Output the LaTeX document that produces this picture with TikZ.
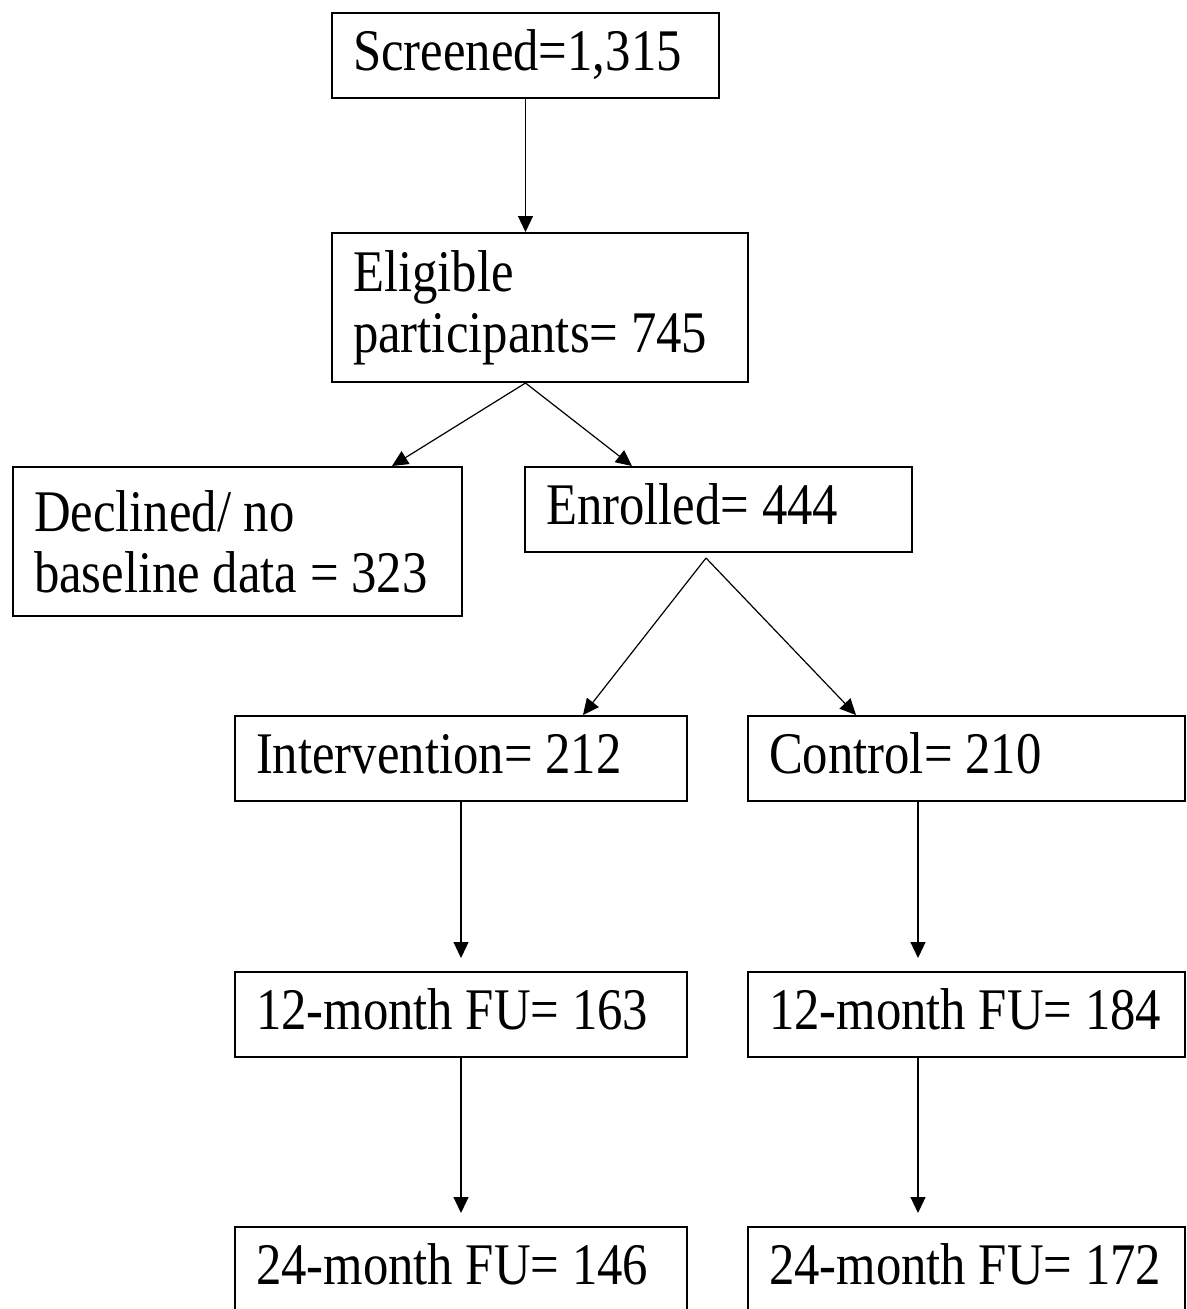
\documentclass[tikz,border=0pt]{standalone}
\usepackage{fontspec}
\setmainfont{Liberation Serif}[FakeStretch=0.86]
\usepackage{tikz}
\usetikzlibrary{arrows.meta,positioning,calc}
\newcommand{\boxfont}{\fontsize{59}{61}\selectfont}

\begin{document}
\begin{tikzpicture}[x=1pt, y=-1pt,
		box/.style={draw, line width=2pt, anchor=north west, inner xsep=21pt, inner ysep=0pt, align=flush left, font=\boxfont},
		oneline/.style={box, minimum height=85pt, text depth=10pt},
		twoline/.style={box, minimum height=149pt},
		arrow/.style={line width=1.2pt, -{Triangle[length=16pt,width=15pt]}}]
		\path[use as bounding box, fill=white] (0,0) rectangle (1186,1309);

		\node[oneline, text width=345pt] (screened) at (331,12) {Screened=1,315};
		\node[twoline, text width=374pt] (eligible) at (331,232) {Eligible\\participants= 745};
		\node[twoline, text width=407pt] (declined) at (12,466) {Declined/ no\\baseline data = 323};
		\node[oneline, text width=345pt] (enrolled) at (524,466) {Enrolled= 444};
		\node[oneline, text width=410pt] (interv) at (234,715) {Intervention= 212};
		\node[oneline, text width=395pt] (control) at (747,715) {Control= 210};
		\node[oneline, text width=410pt] (intfuone) at (234,971) {12-month FU= 163};
		\node[oneline, text width=395pt] (confuone) at (747,971) {12-month FU= 184};
		\node[oneline, text width=410pt] (intfutwo) at (234,1226) {24-month FU= 146};
		\node[oneline, text width=395pt] (confutwo) at (747,1226) {24-month FU= 172};

		\coordinate (declinedin) at (392,466);
		\coordinate (enrolledin) at (632,466);
		\coordinate (enrsplit) at (706,558);
		\coordinate (intervin) at (583,715);
		\coordinate (controlin) at (856,715);
		\coordinate (constem) at (918,0);

		\draw[arrow] (screened.south) -- (screened.south |- eligible.north);
		\draw[arrow] (screened.south |- eligible.south) -- (declinedin);
		\draw[arrow] (screened.south |- eligible.south) -- (enrolledin);
		\draw[arrow] (enrsplit) -- (intervin);
		\draw[arrow] (enrsplit) -- (controlin);
		\draw[arrow, shorten >=13pt] (interv.south) -- (intfuone.north);
		\draw[arrow, shorten >=13pt] (intfuone.south) -- (intfutwo.north);
		\draw[arrow, shorten >=13pt] (control.south -| constem) -- (confuone.north -| constem);
		\draw[arrow, shorten >=13pt] (confuone.south -| constem) -- (confutwo.north -| constem);
	\end{tikzpicture}
\end{document}
